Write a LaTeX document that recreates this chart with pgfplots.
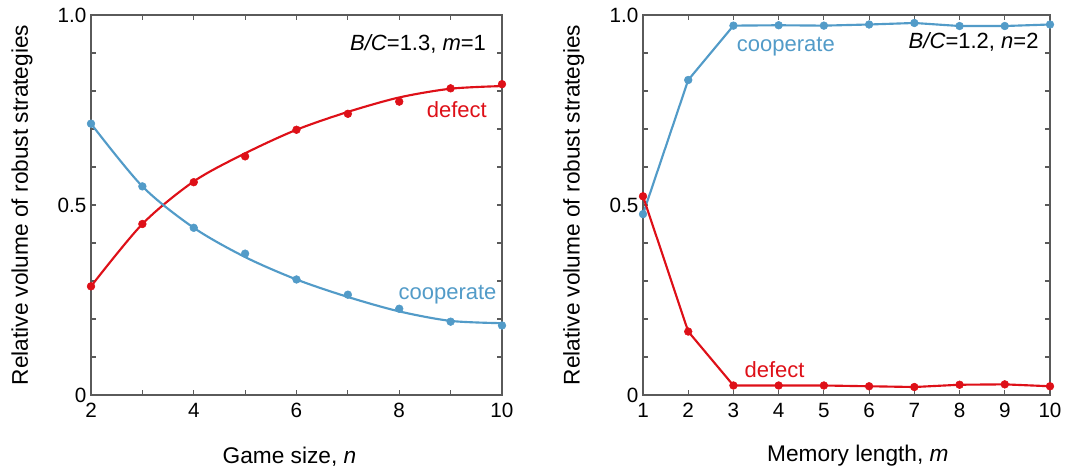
\documentclass[border=0pt]{standalone}
\usepackage{pgfplots}
\pgfplotsset{compat=1.18}
\usepackage{fontspec}
\setmainfont{Liberation Sans}
\definecolor{cblue}{RGB}{82,155,200}
\definecolor{cred}{RGB}{222,16,24}
\definecolor{framec}{RGB}{90,90,90}
\begin{document}
\begin{tikzpicture}
\useasboundingbox (0pt,0pt) rectangle (806.25pt,353.25pt);
\pgfplotsset{
 myaxis/.style={
  scale only axis, height=285pt, clip=false,
  axis line style={framec, line width=1pt},
  every tick/.style={framec, line width=0.9pt},
  major tick length=3.5pt, minor tick length=3.5pt,
  tick align=inside,
  ymin=0, ymax=1, ytick={0,0.5,1}, yticklabels={0,0.5,1.0}, minor y tick num=4,
  tick label style={font=\fontsize{15.5}{18}\selectfont},
  xticklabel style={yshift=-2.5pt},
  label style={font=\fontsize{17}{20}\selectfont},
  /pgf/number format/assume math mode=true,
 },
 myline/.style={line width=1.6pt, no markers},
 mydots/.style={only marks, mark=*, mark size=2.9pt},
}
\begin{axis}[myaxis, at={(68.25pt,57pt)}, anchor=south west, width=308.25pt,
  xmin=2, xmax=10, xtick={2,4,6,8,10}, minor x tick num=1,
  xlabel={Game size, \textit{n}},
  ylabel={Relative volume of robust strategies},
  xlabel style={at={(axis description cs:0.483,-0.179)}, anchor=base},
  ylabel style={at={(axis description cs:-0.168,0.5)}, anchor=center}]
\addplot[myline, cred, smooth] coordinates {(2,0.286) (3,0.450) (4,0.562) (5,0.636) (6,0.698) (7,0.745) (8,0.783) (9,0.806) (10,0.813)};
\addplot[mydots, cred, mark options={fill=cred, draw=cred}] coordinates {(2,0.286) (3,0.450) (4,0.560) (5,0.628) (6,0.698) (7,0.740) (8,0.772) (9,0.807) (10,0.818)};
\addplot[myline, cblue, smooth] coordinates {(2,0.714) (3,0.549) (4,0.440) (5,0.363) (6,0.304) (7,0.258) (8,0.220) (9,0.195) (10,0.189)};
\addplot[mydots, cblue, mark options={fill=cblue, draw=cblue}] coordinates {(2,0.714) (3,0.549) (4,0.440) (5,0.372) (6,0.304) (7,0.264) (8,0.227) (9,0.193) (10,0.183)};
\node[text=cred, font=\fontsize{16.5}{20}\selectfont] at (axis cs:9.12,0.75) {defect};
\node[text=cblue, font=\fontsize{16.5}{20}\selectfont] at (axis cs:8.94,0.263) {cooperate};
\node[anchor=east, font=\fontsize{16.5}{20}\selectfont] at (axis cs:9.78,0.925) {\textit{B/C}=1.3, \textit{m}=1};
\end{axis}
\begin{axis}[myaxis, at={(482.25pt,57pt)}, anchor=south west, width=305.25pt,
  xmin=1, xmax=10, xtick={1,2,...,10},
  xlabel={Memory length, \textit{m}},
  ylabel={Relative volume of robust strategies},
  xlabel style={at={(axis description cs:0.528,-0.176)}, anchor=base},
  ylabel style={at={(axis description cs:-0.170,0.5)}, anchor=center}]
\addplot[myline, cblue] coordinates {(1,0.476) (2,0.829) (3,0.972) (4,0.973) (5,0.972) (6,0.975) (7,0.979) (8,0.971) (9,0.971) (10,0.975)};
\addplot[mydots, cblue, mark options={fill=cblue, draw=cblue}] coordinates {(1,0.476) (2,0.829) (3,0.972) (4,0.973) (5,0.972) (6,0.975) (7,0.979) (8,0.971) (9,0.971) (10,0.975)};
\addplot[myline, cred] coordinates {(1,0.523) (2,0.167) (3,0.025) (4,0.025) (5,0.025) (6,0.023) (7,0.021) (8,0.027) (9,0.028) (10,0.023)};
\addplot[mydots, cred, mark options={fill=cred, draw=cred}] coordinates {(1,0.523) (2,0.167) (3,0.025) (4,0.025) (5,0.025) (6,0.023) (7,0.021) (8,0.027) (9,0.028) (10,0.023)};
\node[text=cblue, font=\fontsize{16.5}{20}\selectfont] at (axis cs:4.16,0.917) {cooperate};
\node[text=cred, font=\fontsize{16.5}{20}\selectfont] at (axis cs:3.91,0.066) {defect};
\node[anchor=east, font=\fontsize{16.5}{20}\selectfont] at (axis cs:9.85,0.93) {\textit{B/C}=1.2, \textit{n}=2};
\end{axis}
\end{tikzpicture}
\end{document}
